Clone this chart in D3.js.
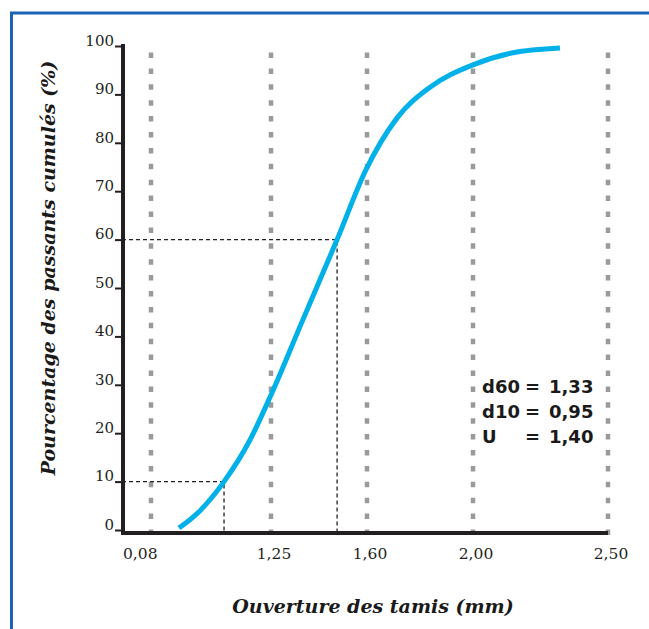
<!DOCTYPE html>
<html>
<head>
<meta charset="utf-8">
<script src="https://cdn.jsdelivr.net/npm/d3@7"></script>
<style>
  body { margin: 0; background: #fff; }
  svg { display: block; }
</style>
</head>
<body>
<div id="chart"></div>
<script>
// Cumulative passing curve (sieve analysis).
const yTicks = [0, 10, 20, 30, 40, 50, 60, 70, 80, 90, 100];
const xTicks = [0.08, 1.25, 1.60, 2.00, 2.50];
const xTickLabels = ["0,08", "1,25", "1,60", "2,00", "2,50"];

// curve: sieve opening (mm) and % passing
const curveMm  = [0.353, 0.558, 0.792, 1.045, 1.25, 1.363, 1.491, 1.596, 1.713, 1.838, 2.00, 2.148, 2.322];
const curvePct = [0.4,   4.0,   10,    18.6,  27.9, 43.0,  60,    74.4,  85.1,  91.5,  96.1, 98.6,  99.6];

// d10 / d60 guide lines
const markMm  = [0.792, 1.491];
const markPct = [10, 60];

const notes = [["d60", "1,33"], ["d10", "0,95"], ["U", "1,40"]];

const W = 649, H = 629;
const svg = d3.select("#chart").append("svg")
    .attr("width", W)
    .attr("height", H);

// blue frame (top and left edges visible)
svg.append("path")
    .attr("d", `M11.5,${H} V13 H${W}`)
    .attr("fill", "none")
    .attr("stroke", "#1c62b5")
    .attr("stroke-width", 3);

// the x scale is piecewise: gridlines are not evenly spaced
let x = d3.scaleLinear()
    .domain(xTicks)
    .range([151, 271, 367, 473, 608]);

let y = d3.scaleLinear()
    .domain([0, 100])
    .range([530, 46]);

const axisX0 = 122, axisY = 533;

// vertical grey dotted gridlines
svg.append("g")
  .selectAll("line")
  .data(xTicks)
  .join("line")
    .attr("x1", d => x(d))
    .attr("x2", d => x(d))
    .attr("y1", axisY + 2)
    .attr("y2", y(100) + 4)
    .attr("stroke", "#9a9a9c")
    .attr("stroke-width", 4.5)
    .attr("stroke-dasharray", "5.5,10.4");

// black dashed guides for d10 and d60
let guides = svg.append("g")
    .attr("fill", "none")
    .attr("stroke", "#222")
    .attr("stroke-width", 1.3)
    .attr("stroke-dasharray", "4,3");

markMm.forEach((m, i) => {
  guides.append("path")
      .attr("d", `M${axisX0},${y(markPct[i])} H${x(m)} V${axisY}`);
});

// axis lines
svg.append("line")
    .attr("x1", 123).attr("x2", 123)
    .attr("y1", y(100) - 2).attr("y2", axisY + 2)
    .attr("stroke", "#231f20")
    .attr("stroke-width", 4);

svg.append("line")
    .attr("x1", axisX0).attr("x2", x(2.50))
    .attr("y1", axisY).attr("y2", axisY)
    .attr("stroke", "#231f20")
    .attr("stroke-width", 4);

// y axis ticks and labels
let yAxis = svg.append("g")
    .attr("transform", "translate(121,0)")
    .call(d3.axisLeft(y).tickValues(yTicks).tickSize(6).tickPadding(1).tickFormat(d3.format("d")));

yAxis.select(".domain").remove();
yAxis.selectAll(".tick line")
    .attr("stroke", "#231f20")
    .attr("stroke-width", 2);
yAxis.selectAll(".tick text")
    .attr("dy", "-0.05em")
    .attr("fill", "#231f20")
    .style("font-family", "'DejaVu Serif', serif")
    .style("font-size", "15px");

// x tick labels
svg.append("g")
  .selectAll("text")
  .data(xTicks)
  .join("text")
    .attr("x", (d, i) => i === 0 ? axisX0 + 1 : x(d) + 3)
    .attr("y", 559)
    .attr("text-anchor", (d, i) => i === 0 ? "start" : "middle")
    .attr("fill", "#231f20")
    .style("font-family", "'DejaVu Serif', serif")
    .style("font-size", "15.5px")
    .text((d, i) => xTickLabels[i]);

// the curve
let pts = curveMm.map((m, i) => [m, curvePct[i]]);
let line = d3.line()
    .x(d => x(d[0]))
    .y(d => y(d[1]))
    .curve(d3.curveMonotoneX);

svg.append("path")
    .datum(pts)
    .attr("fill", "none")
    .attr("stroke", "#00b1e9")
    .attr("stroke-width", 5)
    .attr("d", line);

// d60 / d10 / U annotation
let note = svg.append("g")
    .attr("fill", "#1a1a1a")
    .style("font-family", "'DejaVu Sans', sans-serif")
    .style("font-weight", "bold")
    .style("font-size", "18px");

notes.forEach(([k, v], i) => {
  let by = 393 + i * 25;
  note.append("text").attr("x", 482).attr("y", by).text(k);
  note.append("text").attr("x", 525).attr("y", by).text("=");
  note.append("text").attr("x", 549).attr("y", by).text(v);
});

// axis titles
svg.append("text")
    .attr("transform", "translate(55,268) rotate(-90)")
    .attr("text-anchor", "middle")
    .attr("fill", "#1a1a1a")
    .style("font-family", "'DejaVu Serif', serif")
    .style("font-weight", "bold")
    .style("font-style", "italic")
    .style("font-size", "19px")
    .text("Pourcentage des passants cumulés (%)");

svg.append("text")
    .attr("x", 373)
    .attr("y", 613)
    .attr("text-anchor", "middle")
    .attr("fill", "#1a1a1a")
    .style("font-family", "'DejaVu Serif', serif")
    .style("font-weight", "bold")
    .style("font-style", "italic")
    .style("font-size", "19px")
    .text("Ouverture des tamis (mm)");
</script>
</body>
</html>
